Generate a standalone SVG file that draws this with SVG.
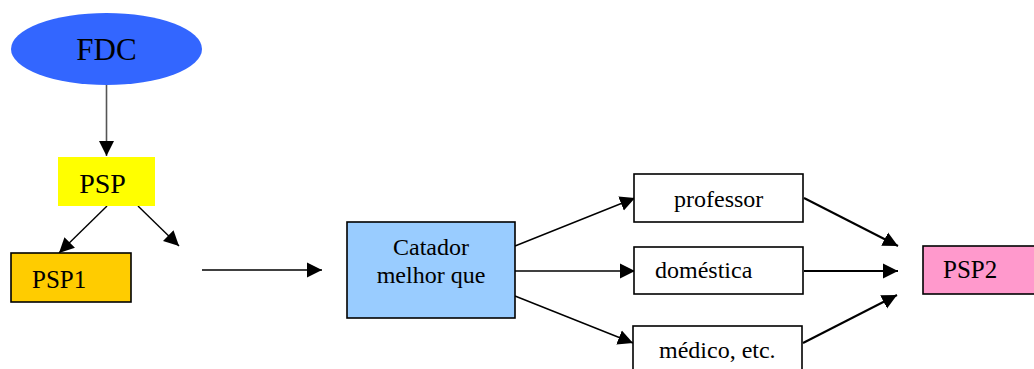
<svg xmlns="http://www.w3.org/2000/svg" width="1034" height="369" viewBox="0 0 1034 369">
<style>
.t{font-family:"Liberation Serif","Times New Roman",serif;fill:#000}
.c{fill:none;stroke:#000;stroke-width:1.4}
.c2{fill:none;stroke:#000;stroke-width:2}
.box{stroke:#000;stroke-width:1.6}
</style>
<defs>
<marker id="ah" markerUnits="userSpaceOnUse" markerWidth="16" markerHeight="16" viewBox="0 0 16 16" refX="15" refY="8" orient="auto">
<path d="M0,0.5 L15,8 L0,15.5 Z" fill="#000"/>
</marker>
</defs>
<rect width="1034" height="369" fill="#fff"/>
<g id="connectors">
<line x1="106.5" y1="85" x2="106.5" y2="156" stroke="#555" stroke-width="1.6" marker-end="url(#ah)"/>
<line class="c" x1="107" y1="206" x2="59" y2="253" marker-end="url(#ah)"/>
<line class="c" x1="138" y1="206" x2="179" y2="246" marker-end="url(#ah)"/>
<line class="c" x1="202" y1="270" x2="322" y2="270" marker-end="url(#ah)"/>
<line class="c" x1="515" y1="246" x2="635" y2="198" marker-end="url(#ah)"/>
<line class="c" x1="515" y1="271" x2="635" y2="271" marker-end="url(#ah)"/>
<line class="c" x1="515" y1="296" x2="633" y2="343" marker-end="url(#ah)"/>
<line class="c2" x1="804" y1="198" x2="898" y2="246" marker-end="url(#ah)"/>
<line class="c2" x1="804" y1="271" x2="898" y2="271" marker-end="url(#ah)"/>
<line class="c2" x1="803" y1="343" x2="897" y2="295" marker-end="url(#ah)"/>
</g>
<g id="fdc">
<ellipse cx="106.5" cy="49" rx="95.5" ry="36" fill="#3366FF"/>
<text class="t" x="106.5" y="60" font-size="31" text-anchor="middle">FDC</text>
</g>
<g id="psp">
<rect x="58" y="157" width="97" height="49" fill="#FFFF00"/>
<text class="t" x="102.5" y="193" font-size="28" text-anchor="middle">PSP</text>
</g>
<g id="psp1">
<rect class="box" x="11" y="253" width="120" height="49" fill="#FFCC00"/>
<text class="t" x="32" y="288" font-size="25">PSP1</text>
</g>
<g id="catador">
<rect class="box" x="347" y="222" width="168" height="96" fill="#99CCFF"/>
<text class="t" x="431" y="255" font-size="24" text-anchor="middle">Catador</text>
<text class="t" x="431" y="283" font-size="24" text-anchor="middle">melhor que</text>
</g>
<g id="professor">
<rect class="box" x="634" y="174" width="169" height="48" fill="#fff"/>
<text class="t" x="674" y="207" font-size="24">professor</text>
</g>
<g id="domestica">
<rect class="box" x="634" y="247" width="169" height="47" fill="#fff"/>
<text class="t" x="655" y="278" font-size="24">doméstica</text>
</g>
<g id="medico">
<rect class="box" x="633" y="326" width="169" height="60" fill="#fff"/>
<text class="t" x="659" y="358" font-size="24">médico, etc.</text>
</g>
<g id="psp2">
<rect class="box" x="923" y="246" width="120" height="48" fill="#FF99CC"/>
<text class="t" x="943" y="278" font-size="25">PSP2</text>
</g>
</svg>
